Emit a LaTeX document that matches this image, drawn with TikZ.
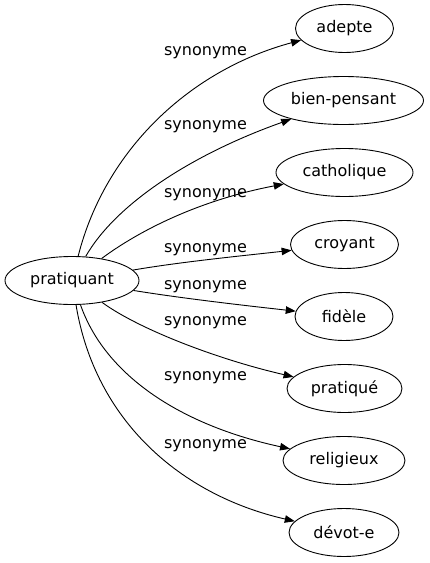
\documentclass[tikz,border=0pt]{standalone}
\usepackage{fontspec}
\setmainfont{DejaVu Sans}
\usetikzlibrary{shapes.geometric,arrows.meta}
\tikzset{
  word/.style={ellipse,draw,line width=0.9pt,inner sep=0pt,minimum height=48pt,font=\fontsize{16}{19}\selectfont},
  rel/.style={font=\fontsize{16}{19}\selectfont,inner sep=0pt},
  edge/.style={line width=0.9pt,-{Triangle[length=10pt,width=7.5pt]}}
}
\begin{document}
\begin{tikzpicture}[x=1pt,y=1pt]
\useasboundingbox (0,0) rectangle (430,-563);
\node[word,minimum width=134pt] (p) at (72,-280.5) {pratiquant};
\node[word,minimum width=98pt]  (t1) at (344.5,-28.5) {adepte};
\node[word,minimum width=160pt] (t2) at (343.5,-100.5) {bien-pensant};
\node[word,minimum width=137pt] (t3) at (344.5,-172.5) {catholique};
\node[word,minimum width=108pt] (t4) at (344.5,-244.5) {croyant};
\node[word,minimum width=98pt]  (t5) at (344,-316.5) {fidèle};
\node[word,minimum width=115pt] (t6) at (344.5,-388.5) {pratiqué};
\node[word,minimum width=122pt] (t7) at (344,-460.5) {religieux};
\node[word,minimum width=110pt] (t8) at (344,-532.5) {dévot-e};
\node[rel] (l1) at (205.5,-53) {synonyme};
\node[rel] (l2) at (205.5,-127) {synonyme};
\node[rel] (l3) at (205.5,-195) {synonyme};
\node[rel] (l4) at (205.5,-250) {synonyme};
\node[rel] (l5) at (205.5,-287) {synonyme};
\node[rel] (l6) at (205.5,-323) {synonyme};
\node[rel] (l7) at (205.5,-378) {synonyme};
\node[rel] (l8) at (205.5,-446) {synonyme};
\draw[edge] (p) .. controls (105,-150) and (190,-70) .. (t1);
\draw[edge] (p) .. controls (115,-205) and (190,-155) .. (t2);
\draw[edge] (p) .. controls (140,-230) and (200,-200) .. (t3);
\draw[edge] (p) .. controls (180,-262) and (240,-256) .. (t4);
\draw[edge] (p) .. controls (180,-298) and (240,-305) .. (t5);
\draw[edge] (p) .. controls (140,-330) and (220,-360) .. (t6);
\draw[edge] (p) .. controls (105,-375) and (180,-425) .. (t7);
\draw[edge] (p) .. controls (95,-420) and (180,-495) .. (t8);
\end{tikzpicture}
\end{document}
